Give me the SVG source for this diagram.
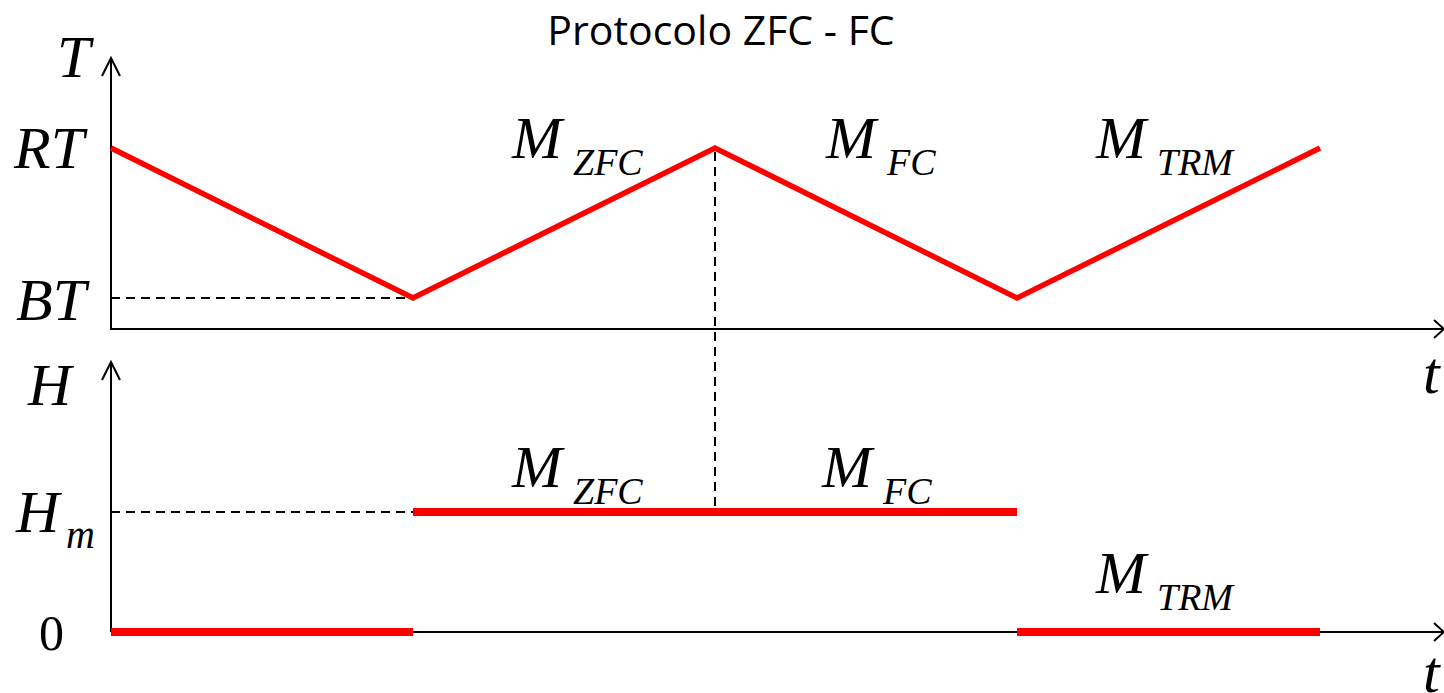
<svg xmlns="http://www.w3.org/2000/svg" width="1444" height="693" viewBox="0 0 1444 693">
<style>
.ax{stroke:#000;stroke-width:2;fill:none}
.ah{stroke:#000;stroke-width:2;fill:none}
.dash{stroke:#000;stroke-width:2;stroke-dasharray:9 6;fill:none}
.red{stroke:#ff0000;stroke-width:5.5;fill:none;stroke-linejoin:miter}
.redt{stroke:#ff0000;stroke-width:8;fill:none}
.lab{font-family:"Liberation Serif","Times New Roman",serif;font-style:italic;fill:#000}
.num{font-family:"Liberation Serif","Times New Roman",serif;fill:#000}
.title{font-family:"Open Sans","Liberation Sans",sans-serif;font-size:41px;fill:#000}
</style>
<rect width="1444" height="693" fill="#fff"/>
<text class="title" x="721" y="45" text-anchor="middle">Protocolo ZFC - FC</text>
<g id="axes">
<path class="ax" d="M111,330 V58"/>
<path class="ah" d="M102,76 L111,58 L120,76"/>
<path class="ax" d="M111,329 H1444"/>
<path class="ah" d="M1434,320 L1444,329 L1434,338"/>
<path class="ax" d="M111,632 V362"/>
<path class="ah" d="M102,380 L111,362 L120,380"/>
<path class="ax" d="M111,632 H1444"/>
<path class="ah" d="M1434,623 L1444,632 L1434,641"/>
</g>
<g id="connectors">
<path class="dash" d="M111,298 H413"/>
<path class="dash" d="M715,152 V514"/>
<path class="dash" d="M111,512 H413"/>
</g>
<g id="temperature">
<path class="red" d="M111,148 L413,298 L715,148 L1017,298 L1320,148"/>
</g>
<g id="field">
<path class="redt" d="M111,632 H413"/>
<path class="redt" d="M413,512 H1017"/>
<path class="redt" d="M1017,632 H1320"/>
</g>
<g id="labels">
<text class="lab" x="57" y="77" font-size="60">T</text>
<text class="lab" x="14" y="168" font-size="60">RT</text>
<text class="lab" x="16" y="320" font-size="60">BT</text>
<text class="lab" x="28" y="405" font-size="60">H</text>
<text class="lab" x="16" y="532" font-size="60">H</text>
<text class="lab" x="66" y="548" font-size="40">m</text>
<text class="num" x="39" y="650" font-size="50">0</text>
<text class="lab" x="1423" y="393" font-size="60">t</text>
<text class="lab" x="1423" y="692" font-size="60">t</text>
<text class="lab" x="512" y="158" font-size="60">M</text>
<text class="lab" x="573" y="175" font-size="38">ZFC</text>
<text class="lab" x="826" y="158" font-size="60">M</text>
<text class="lab" x="887" y="175" font-size="38">FC</text>
<text class="lab" x="1096" y="158" font-size="60">M</text>
<text class="lab" x="1157" y="175" font-size="38">TRM</text>
<text class="lab" x="512" y="487" font-size="60">M</text>
<text class="lab" x="573" y="504" font-size="38">ZFC</text>
<text class="lab" x="822" y="487" font-size="60">M</text>
<text class="lab" x="883" y="504" font-size="38">FC</text>
<text class="lab" x="1096" y="593" font-size="60">M</text>
<text class="lab" x="1157" y="610" font-size="38">TRM</text>
</g>
</svg>
